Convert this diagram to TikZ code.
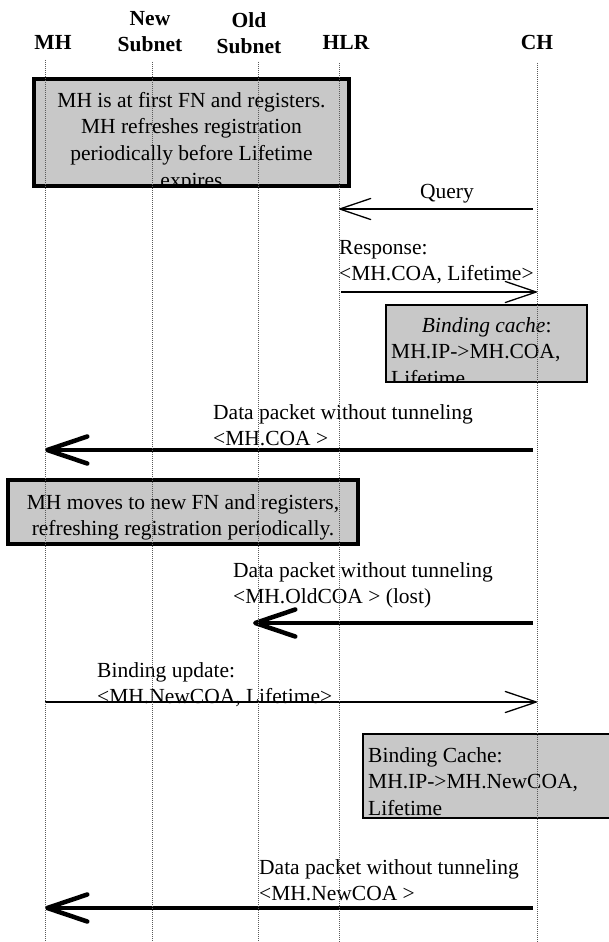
\documentclass[tikz,border=0pt]{standalone}
\usepackage{fontspec}
\setmainfont{Liberation Serif}
\usetikzlibrary{arrows.meta}
\definecolor{boxgray}{RGB}{200,200,200}
\definecolor{lifegray}{RGB}{90,90,90}
\tikzset{
  lifeline/.style={draw=lifegray, line width=0.9pt, dash pattern=on 1pt off 1pt},
  graybox/.style={fill=boxgray, draw=black, line width=#1, inner sep=0pt, outer sep=0pt, anchor=north west},
  hdr/.style={inner sep=0pt, font=\fontsize{21.5}{26.7}\selectfont\bfseries, align=center, anchor=base},
  lbl/.style={inner sep=0pt, font=\fontsize{21.5}{26.7}\selectfont, align=left, anchor=base west},
  ctext/.style={inner sep=0pt, font=\fontsize{21.5}{26.7}\selectfont, align=center, anchor=base},
  thinmsg/.style={line width=1.3pt, -{Straight Barb[length=31pt,width=21pt,round]}},
  thickmsg/.style={line width=4.5pt, -{Straight Barb[length=40pt,width=27pt,round]}},
}
\begin{document}
\begin{tikzpicture}[x=1pt,y=-1pt]
\useasboundingbox (0,0) rectangle (608,942);

% headers (base anchor = baseline of last line)
\node[hdr] (hMH)  at (53,50)  {MH};
\node[hdr] (hNew) at (150,52) {New\\Subnet};
\node[hdr] (hOld) at (249,54) {Old\\Subnet};
\node[hdr] (hHLR) at (346,49) {HLR};
\node[hdr] (hCH)  at (537,49) {CH};

% box 1
\node[graybox=3.2pt, minimum width=315pt, minimum height=107pt] (box1) at (34,79) {};
\begin{scope}
  \clip (box1.south west) rectangle (box1.north east);
  \node[ctext] (box1t) at (191.5,187.1) {MH is at first FN and registers.\\MH refreshes registration\\periodically before Lifetime\\expires};
\end{scope}

% binding cache 1
\node[graybox=2.8pt, minimum width=201pt, minimum height=77pt] (bc1) at (386,305) {};
\begin{scope}
  \clip (bc1.south west) rectangle (bc1.north east);
  \node[lbl] (bc1t) at (391,385.4) {\makebox[191pt][c]{\textit{Binding cache}:}\\MH.IP->MH.COA,\\Lifetime};
\end{scope}

% box 2
\node[graybox=3.2pt, minimum width=350pt, minimum height=64pt] (box2) at (8,480) {};
\node[ctext] (box2t) at (183,535.7) {MH moves to new FN and registers,\\refreshing registration periodically.};

% binding cache 2
\node[graybox=2.4pt, minimum width=277pt, minimum height=84pt] (bc2) at (363,734) {};
\node[lbl] (bc2t) at (368,815.4) {Binding Cache:\\MH.IP->MH.NewCOA,\\Lifetime};

% message end points
\coordinate (q1) at (533,209);  \coordinate (q2) at (339,209);
\coordinate (r1) at (341,292);  \coordinate (r2) at (537,292);
\coordinate (d1a) at (533,450); \coordinate (d1b) at (45,450);
\coordinate (d2a) at (533,623); \coordinate (d2b) at (253,623);
\coordinate (bua) at (45,702);  \coordinate (bub) at (537,702);
\coordinate (d3a) at (533,908); \coordinate (d3b) at (45,908);

% labels
\node[ctext] (ql) at (447,198) {Query};
\node[lbl] (rl) at (339,280.7) {Response:\\<MH.COA, Lifetime>};
\node[lbl] (d1l) at (213,445.7) {Data packet without tunneling\\<MH.COA >};
\node[lbl] (d2l) at (233,603.7) {Data packet without tunneling\\<MH.OldCOA > (lost)};
\node[lbl] (bul) at (97,703.7) {Binding update:\\<MH.NewCOA, Lifetime>};
\node[lbl] (d3l) at (259,900.7) {Data packet without tunneling\\<MH.NewCOA >};

% messages
\draw[thinmsg] (q1) -- (q2);
\draw[thinmsg] (r1) -- (r2);
\draw[thickmsg] (d1a) -- (d1b);
\draw[thickmsg] (d2a) -- (d2b);
\draw[thinmsg] (bua) -- (bub);
\draw[thickmsg] (d3a) -- (d3b);

% lifelines
\coordinate (mhT) at (45,60);  \coordinate (mhB) at (45,942);
\coordinate (nsT) at (152,62); \coordinate (nsB) at (152,942);
\coordinate (osT) at (258,62); \coordinate (osB) at (258,942);
\coordinate (hlT) at (339,63); \coordinate (hlB) at (339,942);
\coordinate (chT) at (537,63); \coordinate (chB) at (537,942);
\draw[lifeline] (mhT) -- (mhB);
\draw[lifeline] (nsT) -- (nsB);
\draw[lifeline] (osT) -- (osB);
\draw[lifeline] (hlT) -- (hlB);
\draw[lifeline] (chT) -- (chB);
\end{tikzpicture}
\end{document}
